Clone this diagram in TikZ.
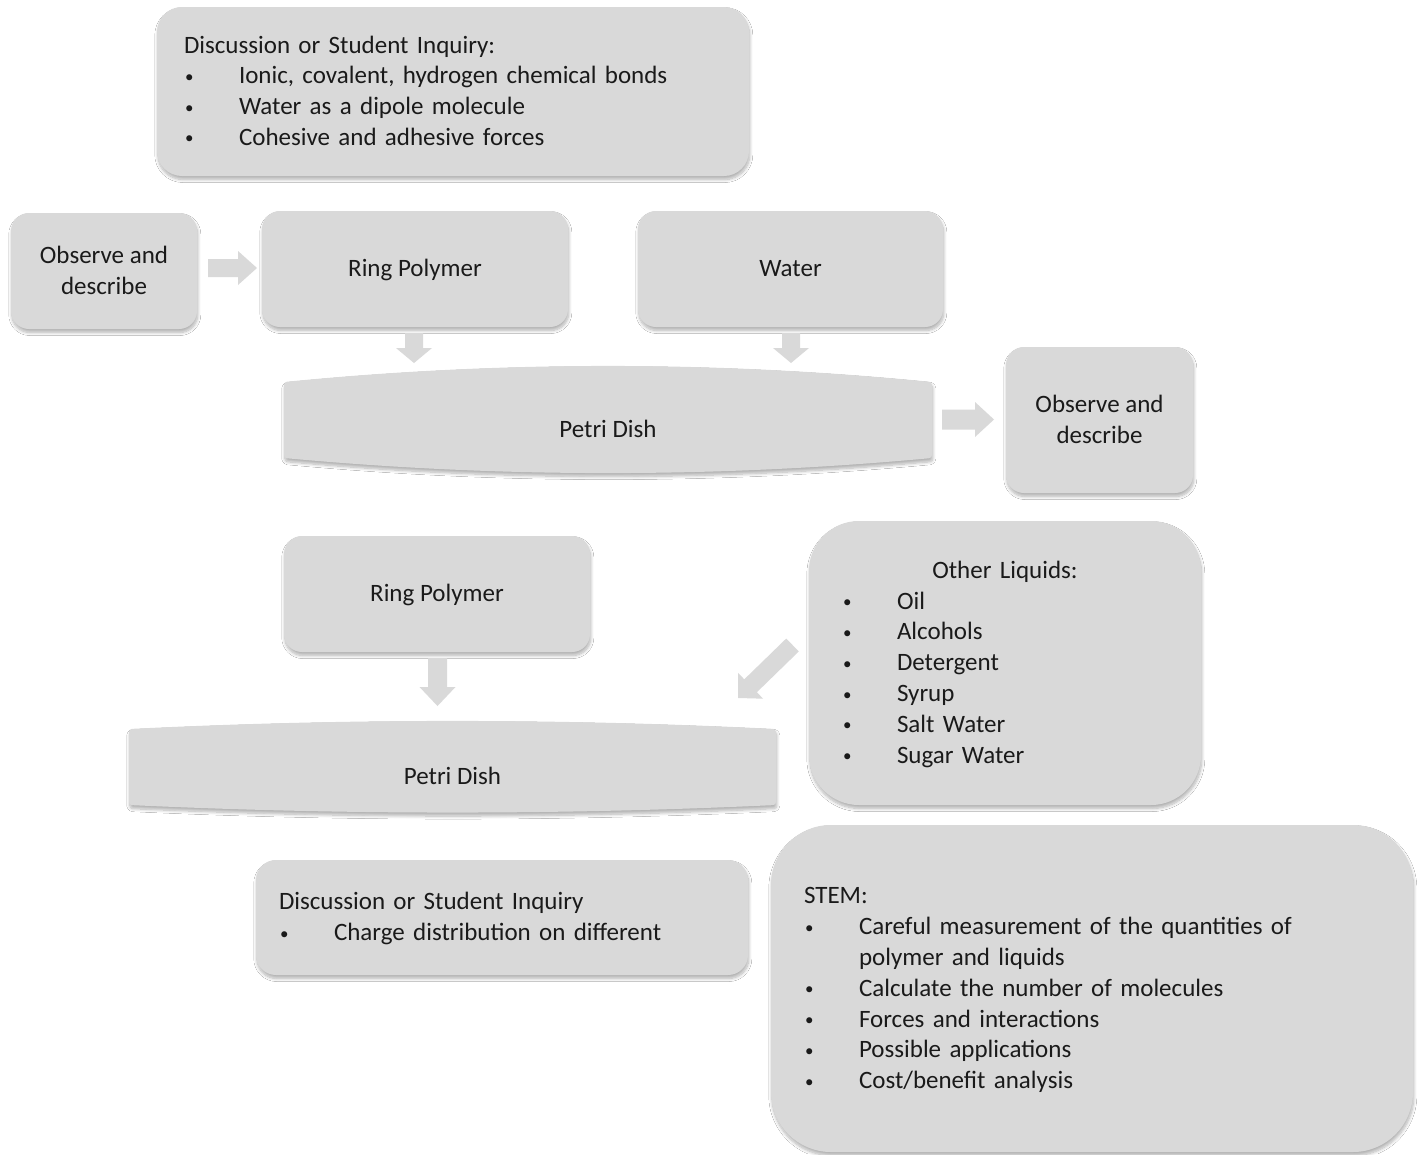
\documentclass[tikz,border=0pt]{standalone}
\usepackage{fontspec}
\setmainfont{Carlito}
\usetikzlibrary{shadows.blur}
\definecolor{boxgray}{HTML}{D9D9D9}
\definecolor{arrgray}{HTML}{D9D9D9}
\definecolor{txt}{HTML}{1A1A1A}
\newcommand\blt{\makebox[55pt][l]{\hspace{1pt}\raisebox{1.5pt}{\fontsize{17}{17}\selectfont •}}}
\newcommand\fl{\rule{0pt}{23pt}}
\newcommand\ld{\rule[-7.5pt]{0pt}{7.5pt}}
\newcommand\blockarr[7]{%
  \fill[arrowfill, shift={(#1,#2)}, rotate=#4] (0,#5) -- ({#3-#7},#5) -- ({#3-#7},#6) -- (#3,0) -- ({#3-#7},-#6) -- ({#3-#7},-#5) -- (0,-#5) -- cycle;}
\tikzset{
  softshadow/.style={blur shadow={shadow xshift=0.8pt, shadow yshift=-3.5pt, shadow blur radius=3pt, shadow blur steps=8, shadow opacity=30}},
  box/.style={rectangle, fill=boxgray, softshadow, text=txt, font=\fontsize{25}{30.8}\selectfont, inner ysep=0pt},
  cbox/.style={box, align=center, rounded corners=18pt},
  lbox/.style={box, align=left},
  arrowfill/.style={fill=arrgray},
  petri/.style={fill=boxgray, softshadow, rounded corners=3pt},
  ptext/.style={text=txt, font=\fontsize{25}{30.8}\selectfont, inner sep=0pt}
}
\begin{document}
\begin{tikzpicture}[x=1pt, y=-1pt]
\useasboundingbox[fill=white] (0,0) rectangle (1421,1154);

% top discussion box
\node[lbox, rounded corners=25pt, minimum width=592pt, minimum height=169pt, text width=538pt, inner xsep=27pt] (disc1) at (453,91.5)
 {\fl Discussion or Student Inquiry:\\
  \blt Ionic, covalent, hydrogen chemical bonds\\
  \blt Water as a dipole molecule\\
  \blt Cohesive and adhesive forces\ld};

% row 2
\node[cbox, minimum width=186pt, minimum height=116pt] (obs1) at (104,271) {\fl Observe and\\describe\ld};
\node[cbox, minimum width=306pt, minimum height=116pt] (ring1) at (415,269) {\fl Ring Polymer\ld};
\node[cbox, minimum width=305pt, minimum height=116pt] (water) at (790.5,269) {\fl Water\ld};

% petri dish 1
\path[petri] (284,382) .. controls (500,360.7) and (716,360.7) .. (932,382) -- (932,458) .. controls (716,478) and (500,478) .. (284,458) -- cycle;
\node[ptext] (petri1) at (608,429) {Petri Dish};

\node[cbox, minimum width=187pt, minimum height=146pt] (obs2) at (1099.5,420) {\fl Observe and\\describe\ld};

% lower part
\node[cbox, minimum width=306pt, minimum height=116pt] (ring2) at (437,594) {\fl Ring Polymer\ld};

\path[petri] (129,729) .. controls (345,718.3) and (560,718.3) .. (776,729) -- (776,805) .. controls (560,815) and (345,815) .. (129,805) -- cycle;
\node[ptext] (petri2) at (452.5,776) {Petri Dish};

\node[lbox, rounded corners=50pt, minimum width=392pt, minimum height=284pt, text width=326pt, inner xsep=33pt] (other) at (1005,663)
 {\fl\makebox[326pt]{Other Liquids:}\\
  \blt Oil\\
  \blt Alcohols\\
  \blt Detergent\\
  \blt Syrup\\
  \blt Salt Water\\
  \blt Sugar Water\ld};

\node[lbox, rounded corners=20pt, minimum width=492pt, minimum height=115pt, text width=446pt, inner xsep=23pt] (disc2) at (502,917.5)
 {\fl Discussion or Student Inquiry\\
  \blt Charge distribution on different\ld};

\node[lbox, rounded corners=60pt, minimum width=642pt, minimum height=327pt, text width=576pt, inner xsep=33pt] (stem) at (1092,988.5)
 {\fl STEM:\\
  \blt Careful measurement of the quantities of\\
  \hspace*{55pt}polymer and liquids\\
  \blt Calculate the number of molecules\\
  \blt Forces and interactions\\
  \blt Possible applications\\
  \blt Cost/benefit analysis\ld};

% block arrows
\blockarr{208}{268}{49}{0}{9}{17}{19}
\blockarr{414}{333}{30}{-90}{9}{18}{15}
\blockarr{791}{333}{30}{-90}{9}{18}{15}
\blockarr{942}{419.5}{52}{0}{10}{17.5}{19}
\blockarr{437.5}{658}{48}{-90}{9.5}{18}{19}
\blockarr{792.5}{645}{76}{224.2}{9}{18}{17.5}
\end{tikzpicture}
\end{document}
